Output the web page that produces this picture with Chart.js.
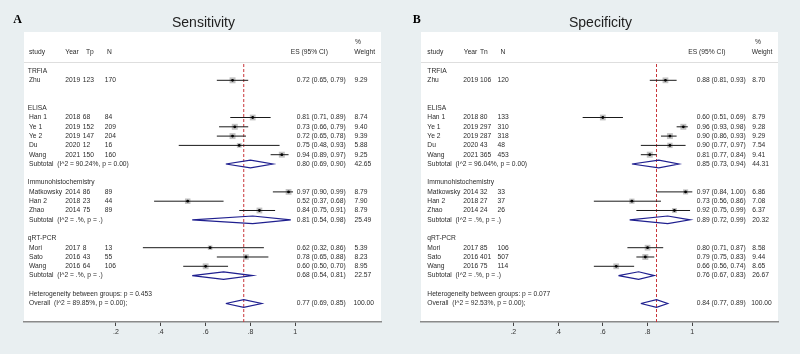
<!DOCTYPE html>
<html>
<head>
<meta charset="utf-8">
<script src="https://cdn.jsdelivr.net/npm/chart.js@4.4.0/dist/chart.umd.min.js"></script>
<style>
  html, body { margin: 0; padding: 0; background: #e9eff1; }
  #wrap { position: relative; width: 800px; height: 354px; overflow: hidden; }
  canvas { position: absolute; top: 0; }
</style>
</head>
<body>
<div id="wrap">
  <canvas id="sens" width="400" height="354" style="left:0"></canvas>
  <canvas id="spec" width="400" height="354" style="left:400px"></canvas>
</div>
<script>
// shared study info
const groups = ['TRFIA', 'ELISA', 'Immunohistochemistry', 'qRT-PCR']
const studies = ['Zhu', 'Han 1', 'Ye 1', 'Ye 2', 'Du', 'Wang', 'Matkowsky', 'Han 2', 'Zhao', 'Mori', 'Sato', 'Wang']
const studyGroup = [0, 1, 1, 1, 1, 1, 2, 2, 2, 3, 3, 3]
const years = [2019, 2018, 2019, 2019, 2020, 2021, 2014, 2018, 2014, 2017, 2016, 2016]
const xTicks = [0.2, 0.4, 0.6, 0.8, 1]

// Sensitivity
const sensTp = [123, 68, 152, 147, 12, 150, 86, 23, 75, 8, 43, 64]
const sensN = [170, 84, 209, 204, 16, 160, 89, 44, 89, 13, 55, 106]
const sensEs = [0.72, 0.81, 0.73, 0.72, 0.75, 0.94, 0.97, 0.52, 0.84, 0.62, 0.78, 0.60]
const sensLo = [0.65, 0.71, 0.66, 0.65, 0.48, 0.89, 0.90, 0.37, 0.75, 0.32, 0.65, 0.50]
const sensHi = [0.79, 0.89, 0.79, 0.78, 0.93, 0.97, 0.99, 0.68, 0.91, 0.86, 0.88, 0.70]
const sensWeight = [9.29, 8.74, 9.40, 9.39, 5.88, 9.25, 8.79, 7.90, 8.79, 5.39, 8.23, 8.95]
const sensSubEs = [null, 0.80, 0.81, 0.68]
const sensSubLo = [null, 0.69, 0.54, 0.54]
const sensSubHi = [null, 0.90, 0.98, 0.81]
const sensSubWeight = [null, 42.65, 25.49, 22.57]
const sensSubI2 = [null, '90.24%', '.%', '.%']
const sensSubP = [null, '0.00', '.', '.']
const sensOverall = [0.77, 0.69, 0.85]   // es, lo, hi
const sensOverallText = ['89.85%', '0.00', '0.453']  // I^2, p, p between groups

// Specificity
const specTn = [106, 80, 297, 287, 43, 365, 32, 27, 24, 85, 401, 75]
const specN = [120, 133, 310, 318, 48, 453, 33, 37, 26, 106, 507, 114]
const specEs = [0.88, 0.60, 0.96, 0.90, 0.90, 0.81, 0.97, 0.73, 0.92, 0.80, 0.79, 0.66]
const specLo = [0.81, 0.51, 0.93, 0.86, 0.77, 0.77, 0.84, 0.56, 0.75, 0.71, 0.75, 0.56]
const specHi = [0.93, 0.69, 0.98, 0.93, 0.97, 0.84, 1.00, 0.86, 0.99, 0.87, 0.83, 0.74]
const specWeight = [8.70, 8.79, 9.28, 9.29, 7.54, 9.41, 6.86, 7.08, 6.37, 8.58, 9.44, 8.65]
const specSubEs = [null, 0.85, 0.89, 0.76]
const specSubLo = [null, 0.73, 0.72, 0.67]
const specSubHi = [null, 0.94, 0.99, 0.83]
const specSubWeight = [null, 44.31, 20.32, 26.67]
const specSubI2 = [null, '96.04%', '.%', '.%']
const specSubP = [null, '0.00', '.', '.']
const specOverall = [0.84, 0.77, 0.89]
const specOverallText = ['92.53%', '0.00', '0.077']

const TXT = '#2b2b2b'
const NAVY = '#1f1f8f'
const FONT = '6.7px "Liberation Sans", Arial, sans-serif'

// row numbers like stata lays them out: group label, studies, subtotal, blank
function buildRows() {
    const rows = { group: [], study: [], sub: [] }
    let k = 0
    groups.forEach((g, gi) => {
        rows.group.push(k)
        k++
        studyGroup.forEach((sg, i) => {
            if (sg === gi) { rows.study[i] = k; k++ }
        })
        if (gi === 0) {
            k += 2
        } else {
            rows.sub[gi] = k
            k += 2
        }
    })
    rows.het = k
    rows.overall = k + 1
    return rows
}
const rows = buildRows()

function textPlugin(p) {
    return {
        id: 'forestText',
        beforeDraw(chart) {
            const { ctx, chartArea: a } = chart
            const y = chart.scales.y
            ctx.save()
            ctx.fillStyle = '#fff'
            ctx.fillRect(a.left, a.top, a.right - a.left, a.bottom - a.top)
            const ly = Math.round(y.getPixelForValue(-0.92)) + 0.5
            ctx.strokeStyle = '#dedede'
            ctx.lineWidth = 1
            ctx.beginPath()
            ctx.moveTo(a.left, ly)
            ctx.lineTo(a.right, ly)
            ctx.stroke()
            ctx.restore()
        },
        afterDraw(chart) {
            const { ctx, chartArea: a } = chart
            const y = chart.scales.y
            const c = p.cols
            const f2 = v => v.toFixed(2)
            const put = (s, x, k) => ctx.fillText(s, x, y.getPixelForValue(k))
            ctx.save()
            ctx.fillStyle = TXT
            ctx.textBaseline = 'middle'
            ctx.textAlign = 'left'
            ctx.font = FONT

            put('study', c.study, -2)
            put('Year', c.yearHead, -2)
            put(p.countLabel, c.cntHead, -2)
            put('N', c.nHead, -2)
            put('ES (95% CI)', c.esHead, -2)
            put('%', c.pct, -3.15)
            put('Weight', c.wHead, -2)

            groups.forEach((g, gi) => put(g, c.group, rows.group[gi]))
            studies.forEach((s, i) => {
                const k = rows.study[i]
                put(s, c.study, k)
                put(String(years[i]), c.year, k)
                put(String(p.count[i]), c.cnt, k)
                put(String(p.n[i]), c.n, k)
                put(`${f2(p.es[i])} (${f2(p.lo[i])}, ${f2(p.hi[i])})`, c.es, k)
                put(f2(p.w[i]), c.w, k)
            })
            groups.forEach((g, gi) => {
                if (p.subEs[gi] == null) return
                const k = rows.sub[gi]
                put(`Subtotal  (I^2 = ${p.subI2[gi]}, p = ${p.subP[gi]})`, c.study, k)
                put(`${f2(p.subEs[gi])} (${f2(p.subLo[gi])}, ${f2(p.subHi[gi])})`, c.es, k)
                put(f2(p.subW[gi]), c.w, k)
            })
            put(`Heterogeneity between groups: p = ${p.overallText[2]}`, c.study, rows.het)
            put(`Overall  (I^2 = ${p.overallText[0]}, p = ${p.overallText[1]});`, c.study, rows.overall)
            put(`${f2(p.overall[0])} (${f2(p.overall[1])}, ${f2(p.overall[2])})`, c.es, rows.overall)
            put('100.00', c.w - 1, rows.overall)

            // title + panel letter
            ctx.textBaseline = 'alphabetic'
            ctx.textAlign = 'center'
            ctx.fillStyle = '#1e1e1e'
            ctx.font = '14px "Liberation Sans", Arial, sans-serif'
            ctx.fillText(p.title, (a.left + a.right) / 2 + 1, 27)
            ctx.textAlign = 'left'
            ctx.fillStyle = '#000'
            ctx.font = 'bold 12px "Liberation Serif", "Times New Roman", serif'
            ctx.fillText(p.letter, p.letterX, 22.7)
            ctx.restore()
        }
    }
}

function drawForest(id, p) {
    const datasets = []
    // overall dashed line
    datasets.push({
        data: [{ x: p.overall[0], y: -0.75 }, { x: p.overall[0], y: 27.5 }],
        showLine: true, borderColor: '#c8353a', borderWidth: 1, borderDash: [3, 2],
        pointRadius: 0, order: 6
    })
    // weight boxes
    datasets.push({
        data: p.es.map((v, i) => ({ x: v, y: rows.study[i] })),
        pointStyle: 'rect',
        pointRadius: p.w.map(v => 1.38 * Math.sqrt(v)),
        backgroundColor: '#c2c2c2', borderWidth: 0, order: 5
    })
    // confidence intervals
    studies.forEach((s, i) => {
        datasets.push({
            data: [{ x: p.lo[i], y: rows.study[i] }, { x: p.hi[i], y: rows.study[i] }],
            showLine: true, borderColor: '#1a1a1a', borderWidth: 1, pointRadius: 0, order: 4
        })
    })
    // point estimates
    datasets.push({
        data: p.es.map((v, i) => ({ x: v, y: rows.study[i] })),
        pointStyle: 'circle', pointRadius: 1.4,
        backgroundColor: '#000', borderWidth: 0, order: 1
    })
    // pooled diamonds
    const diamond = (es, lo, hi, k) => ({
        data: [{ x: lo, y: k }, { x: es, y: k - 0.41 }, { x: hi, y: k }, { x: es, y: k + 0.41 }, { x: lo, y: k }],
        showLine: true, borderColor: NAVY, borderWidth: 1.2, pointRadius: 0, fill: false, order: 2
    })
    groups.forEach((g, gi) => {
        if (p.subEs[gi] == null) return
        datasets.push(diamond(p.subEs[gi], p.subLo[gi], p.subHi[gi], rows.sub[gi]))
    })
    datasets.push(diamond(p.overall[0], p.overall[1], p.overall[2], rows.overall))

    new Chart(document.getElementById(id), {
        type: 'scatter',
        data: { datasets },
        options: {
            responsive: false,
            animation: false,
            events: [],
            layout: { padding: p.padding },
            plugins: { legend: { display: false }, tooltip: { enabled: false } },
            scales: {
                x: {
                    type: 'linear', min: p.xMin, max: p.xMax,
                    afterBuildTicks: s => { s.ticks = xTicks.map(v => ({ value: v })) },
                    afterFit: s => { s.height = 20 },
                    grid: { display: true, drawOnChartArea: false, drawTicks: true, tickLength: 4, tickColor: '#444', lineWidth: 1 },
                    border: { display: true, color: '#8a8a8a', width: 1.5 },
                    ticks: {
                        padding: 2, color: '#333', autoSkip: false, maxRotation: 0,
                        font: { size: 7, family: '"Liberation Sans", Arial, sans-serif' },
                        callback: v => v === 1 ? '1' : String(v).replace(/^0/, '')
                    }
                },
                y: { type: 'linear', reverse: true, min: -4.194, max: 26.99, display: false }
            }
        },
        plugins: [textPlugin(p)]
    })
}

drawForest('sens', {
    title: 'Sensitivity', letter: 'A', letterX: 13.3, countLabel: 'Tp',
    count: sensTp, n: sensN, es: sensEs, lo: sensLo, hi: sensHi, w: sensWeight,
    subEs: sensSubEs, subLo: sensSubLo, subHi: sensSubHi, subW: sensSubWeight,
    subI2: sensSubI2, subP: sensSubP, overall: sensOverall, overallText: sensOverallText,
    xMin: -0.2105, xMax: 1.3825,
    padding: { left: 24, right: 19, top: 32, bottom: 12 },
    cols: { group: 27.8, study: 29, yearHead: 65.3, year: 65.3, cntHead: 86, cnt: 82.8, nHead: 107, n: 104.7,
            esHead: 290.7, es: 296.7, pct: 355, wHead: 354.3, w: 354.5 }
})

drawForest('spec', {
    title: 'Specificity', letter: 'B', letterX: 12.7, countLabel: 'Tn',
    count: specTn, n: specN, es: specEs, lo: specLo, hi: specHi, w: specWeight,
    subEs: specSubEs, subLo: specSubLo, subHi: specSubHi, subW: specSubWeight,
    subI2: specSubI2, subP: specSubP, overall: specOverall, overallText: specOverallText,
    xMin: -0.2125, xMax: 1.383,
    padding: { left: 21, right: 22, top: 32, bottom: 12 },
    cols: { group: 27.3, study: 27.3, yearHead: 63.8, year: 63.3, cntHead: 80, cnt: 80, nHead: 100.5, n: 97.5,
            esHead: 288.3, es: 296.7, pct: 355, wHead: 351.7, w: 352.3 }
})
</script>
</body>
</html>
